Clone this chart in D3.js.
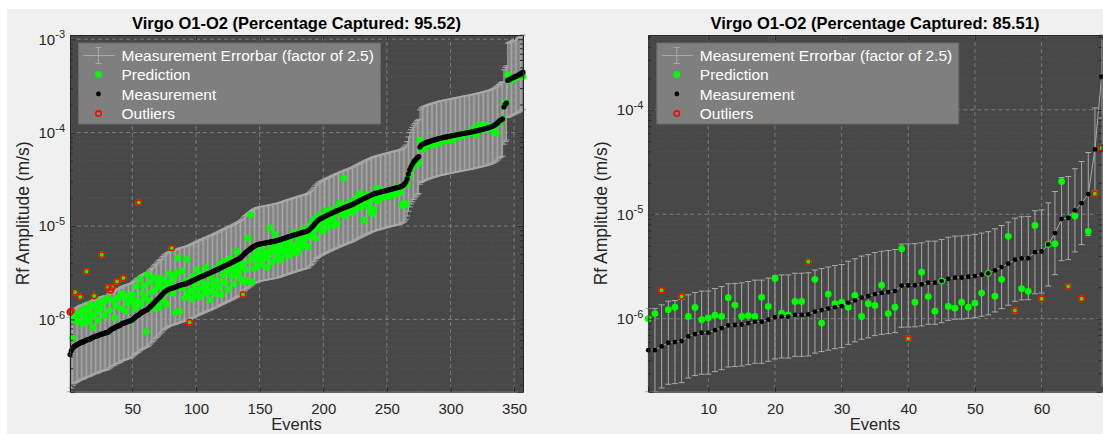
<!DOCTYPE html>
<html>
<head>
<meta charset="utf-8">
<script src="https://cdn.jsdelivr.net/npm/d3@7"></script>
<style>
  html, body { margin: 0; padding: 0; background: #ffffff; }
  svg { display: block; font-family: "Liberation Sans", Arial, Helvetica, sans-serif; }
</style>
</head>
<body>
<svg id="fig" width="1103" height="434"></svg>
<script>
// Amplitudes are stored in units of 1e-6 m/s, events sorted by measured amplitude.
const UNIT = 1e-6;
const errFactor = 2.5;

// O1-O2, full event set
const leftMeasured = [
  0.42,0.46,0.49,0.51,0.52,0.53,0.54,0.55,0.56,0.57,
  0.57,0.58,0.59,0.60,0.61,0.61,0.62,0.63,0.64,0.65,
  0.66,0.66,0.67,0.68,0.69,0.70,0.70,0.71,0.72,0.72,
  0.73,0.75,0.77,0.79,0.80,0.81,0.83,0.84,0.85,0.86,
  0.88,0.90,0.91,0.92,0.93,0.94,0.95,0.96,0.97,0.99,
  1.02,1.05,1.08,1.10,1.12,1.15,1.18,1.20,1.22,1.24,
  1.26,1.28,1.32,1.36,1.40,1.45,1.50,1.55,1.60,1.65,
  1.70,1.75,1.82,1.88,1.95,2.00,2.04,2.08,2.11,2.14,
  2.16,2.18,2.20,2.22,2.25,2.28,2.31,2.33,2.35,2.37,
  2.39,2.41,2.44,2.47,2.50,2.54,2.58,2.62,2.66,2.70,
  2.74,2.78,2.82,2.86,2.90,2.94,2.98,3.02,3.06,3.10,
  3.14,3.18,3.23,3.28,3.33,3.38,3.43,3.48,3.54,3.60,
  3.65,3.70,3.76,3.82,3.88,3.94,4.00,4.06,4.12,4.19,
  4.26,4.33,4.40,4.47,4.56,4.70,4.86,5.02,5.18,5.32,
  5.45,5.58,5.72,5.86,6.00,6.10,6.20,6.28,6.34,6.40,
  6.44,6.48,6.52,6.56,6.60,6.64,6.68,6.72,6.76,6.80,
  6.85,6.90,6.95,7.00,7.06,7.12,7.20,7.28,7.36,7.44,
  7.52,7.60,7.68,7.76,7.84,7.92,8.00,8.08,8.16,8.24,
  8.32,8.40,8.48,8.56,8.64,8.72,8.80,8.90,9.10,9.40,
  9.70,10.0,10.4,10.8,11.2,11.5,11.8,12.0,12.2,12.4,
  12.6,12.8,13.0,13.2,13.4,13.6,13.8,14.0,14.2,14.4,
  14.6,14.8,15.0,15.2,15.4,15.6,15.8,16.0,16.2,16.4,
  16.6,16.8,17.0,17.3,17.6,17.9,18.2,18.5,18.8,19.1,
  19.4,19.7,20.0,20.3,20.6,20.9,21.2,21.5,21.8,22.1,
  22.3,22.5,22.7,22.9,23.1,23.3,23.5,23.7,23.9,24.1,
  24.3,24.5,24.7,24.9,25.1,25.3,25.5,25.7,25.9,26.1,
  26.4,26.8,27.4,28.2,29.5,32.0,36.0,40.0,43.0,45.5,
  48.0,50.0,52.0,54.0,55.5,70.0,73.0,75.0,76.0,77.0,
  78.0,79.0,80.0,80.8,81.6,82.4,83.2,84.0,84.8,85.6,
  86.4,87.0,87.6,88.2,88.8,89.4,90.0,90.6,91.2,91.8,
  92.4,93.0,93.6,94.2,94.8,95.4,96.0,96.6,97.2,97.8,
  98.4,99.0,99.6,100.2,100.8,101.4,102.0,102.8,103.6,104.4,
  105.2,106.0,106.8,107.6,108.4,109.2,110.0,111.0,112.0,113.0,
  114.0,115.5,117.0,119.0,121.0,124.0,127.0,131.0,135.0,138.0,
  140.0,188.0,200.0,208.0,362.0,368.0,374.0,380.0,386.0,392.0,
  398.0,404.0,410.0,418.0,426.0,434.0,444.0
];
const leftPredicted = [
  1.19,1.23,0.63,1.00,1.95,1.10,0.95,1.15,1.74,1.20,
  0.90,1.30,1.05,3.26,1.25,0.95,1.45,1.10,0.82,1.78,
  1.35,1.20,0.98,1.55,1.30,4.92,1.50,1.10,1.60,1.70,
  2.20,1.25,2.05,2.20,1.60,1.04,1.40,2.55,1.70,1.69,
  1.30,1.90,2.77,1.80,1.22,1.50,1.75,0.95,1.60,1.85,
  1.50,1.30,2.25,1.60,17.8,2.70,1.45,1.90,2.30,1.70,
  0.74,3.00,1.60,2.50,1.95,1.30,2.80,2.10,1.55,2.40,
  1.35,2.77,2.20,1.60,2.60,1.90,1.45,2.30,3.08,2.50,
  5.80,1.90,2.80,1.19,3.14,4.54,1.22,2.17,3.30,2.20,
  1.70,2.60,4.40,1.90,0.93,2.00,1.65,2.90,2.30,1.80,
  3.40,2.10,1.75,2.60,3.00,2.20,1.90,3.60,2.40,2.00,
  1.62,2.80,3.20,2.30,1.90,3.50,2.60,2.20,3.90,1.84,
  3.00,4.20,2.50,3.30,2.10,3.80,4.50,2.90,3.40,2.40,
  4.00,5.33,3.10,3.60,2.70,3.90,1.85,2.53,3.40,2.60,
  7.40,4.20,13.2,2.50,4.60,3.50,5.00,3.70,4.40,5.80,
  3.90,4.90,6.20,4.50,5.20,3.60,4.80,9.60,5.50,4.10,
  6.00,8.10,5.30,4.60,5.30,6.40,4.30,5.80,7.00,5.00,
  5.60,6.50,4.80,7.30,6.00,5.40,8.60,6.20,5.10,7.60,
  6.80,5.70,8.90,7.10,6.30,9.20,7.50,6.00,8.30,10.2,
  8.00,11.5,9.00,7.40,12.5,10.8,9.50,13.0,11.0,8.80,
  12.2,14.5,10.6,9.80,13.6,11.8,15.0,12.5,10.2,14.0,
  10.7,16.2,17.6,13.5,15.8,32.5,12.8,14.8,17.0,13.9,
  15.5,18.2,14.0,16.5,19.0,15.2,20.5,17.3,22.4,16.0,
  18.5,11.6,20.0,17.8,21.5,16.2,14.0,19.5,13.5,15.0,
  21.0,25.4,18.6,22.0,19.8,23.6,20.5,24.0,21.2,22.8,
  23.5,20.8,24.5,22.2,24.3,21.5,25.0,23.0,26.0,22.6,
  24.0,17.0,16.5,17.5,17.0,28.0,33.0,36.0,41.0,43.0,
  46.0,47.0,46.1,46.9,47.0,83.0,66.0,70.0,72.0,68.0,
  75.0,73.0,78.0,76.0,80.0,74.0,75.0,81.0,77.0,79.0,
  77.4,83.0,80.0,85.0,82.0,83.7,86.0,84.0,88.0,86.0,
  90.0,83.7,92.0,89.0,94.0,91.0,95.0,92.0,96.0,93.0,
  98.0,95.0,100.0,97.0,102.0,99.0,104.0,110.0,100.0,94.6,
  108.0,112.0,121.0,118.0,106.0,121.0,114.0,110.0,116.0,112.0,
  118.0,110.0,114.0,104.0,120.0,98.6,122.0,128.0,132.0,136.0,
  140.0,195.0,205.0,210.0,414.0,360.0,372.0,366.0,380.0,378.0,
  390.0,392.0,400.0,405.0,410.0,402.0,400.0
];

// O1-O2, reduced event set
const rightMeasured = [
  0.50,0.50,0.543,0.589,0.597,0.61,0.677,0.713,0.735,0.735,
  0.778,0.813,0.863,0.87,0.88,0.908,0.936,0.936,0.978,1.03,
  1.05,1.05,1.09,1.09,1.10,1.17,1.21,1.25,1.29,1.32,
  1.42,1.50,1.59,1.64,1.72,1.77,1.80,1.84,2.07,2.08,
  2.09,2.13,2.21,2.21,2.29,2.41,2.47,2.48,2.52,2.56,
  2.64,2.72,2.90,3.12,3.36,3.67,3.78,3.80,4.33,4.40,
  5.14,6.60,8.98,9.20,10.9,12.8,15.6,41.7,208.0
];
const rightPredicted = [
  1.00,1.12,1.87,1.22,1.29,1.63,1.05,1.28,0.978,1.02,
  1.08,1.05,1.59,1.35,1.05,1.07,1.05,1.60,1.31,2.43,
  1.13,1.09,1.46,1.46,3.51,2.38,0.908,1.72,1.39,1.44,
  1.29,1.67,1.05,1.39,1.34,2.09,1.12,1.29,4.68,0.644,
  1.44,2.79,1.63,1.18,2.29,1.31,1.26,1.44,1.29,1.41,
  1.76,2.72,1.64,2.38,6.14,1.20,1.94,1.83,7.82,1.55,
  5.14,5.22,20.6,2.04,9.60,1.55,6.84,15.7,43.0
];

const leftXTicks = [50, 100, 150, 200, 250, 300, 350];
const rightXTicks = [10, 20, 30, 40, 50, 60];
const leftYTicks = [1e-6, 1e-5, 1e-4, 1e-3];
const rightYTicks = [1e-6, 1e-5, 1e-4];

const titleBase = "Virgo O1-O2";
const legendLabels = ["Measurement Errorbar (factor of 2.5)", "Prediction", "Measurement", "Outliers"];
const xLabel = "Events";
const yLabel = "Rf Amplitude (m/s)";

// ---- styling ----
const C = {
  figure: "#f0f0f0",
  axesBg: "#484848",
  grid: "#7c7c7c",
  minorGrid: "#585858",
  axis: "#262626",
  err: "#a9a9a9",
  pred: "#00ff00",
  meas: "#000000",
  outlier: "#ff0000",
  legendBg: "#7f7f7f",
  legendEdge: "#6a6a6a"
};

const svg = d3.select("#fig");
svg.append("rect").attr("x", 7).attr("y", 9).attr("width", 1096).attr("height", 425).attr("fill", C.figure);

function drawPanel(cfg) {
  const { left, top, width, height, measured, predicted, xTicks, yTicks, dotR, predR } = cfg;
  const meas = measured.map(v => v * UNIT);
  const pred = predicted.map(v => v * UNIT);
  const n = meas.length;
  const idx = d3.range(n);

  const x = d3.scaleLinear().domain([1, n]).range([0, width]);
  const y = d3.scaleLog()
    .domain([d3.min(meas) / errFactor, d3.max(meas) * errFactor])
    .range([height, 0]);

  const isOutlier = i => pred[i] < meas[i] / errFactor || pred[i] > meas[i] * errFactor;
  const outliers = idx.filter(isOutlier);
  const pct = ((n - outliers.length) / n * 100).toFixed(2);

  const g = svg.append("g").attr("transform", `translate(${left},${top})`);
  g.append("rect").attr("width", width).attr("height", height).attr("fill", C.axesBg);

  // minor log grid
  const [lo, hi] = y.domain();
  const minorVals = [];
  for (let d = Math.floor(Math.log10(lo)); d <= Math.ceil(Math.log10(hi)); d++) {
    for (let k = 2; k <= 9; k++) {
      const v = k * Math.pow(10, d);
      if (v > lo && v < hi) minorVals.push(v);
    }
  }
  g.append("g").selectAll("line").data(minorVals).join("line")
    .attr("x1", 0).attr("x2", width)
    .attr("y1", d => y(d)).attr("y2", d => y(d))
    .attr("stroke", C.minorGrid).attr("stroke-width", 1).attr("stroke-dasharray", "1 2");

  // major grid
  const grid = g.append("g").attr("stroke", C.grid).attr("stroke-width", 1).attr("stroke-dasharray", "4 3");
  grid.selectAll("line.gy").data(yTicks).join("line").attr("class", "gy")
    .attr("x1", 0).attr("x2", width).attr("y1", d => y(d)).attr("y2", d => y(d));
  grid.selectAll("line.gx").data(xTicks).join("line").attr("class", "gx")
    .attr("y1", 0).attr("y2", height).attr("x1", d => x(d)).attr("x2", d => x(d));

  // error bars (factor of errFactor) with the line through the measurements
  const eb = g.append("g").attr("stroke", C.err).attr("stroke-width", 1).attr("fill", "none");
  eb.selectAll("line.v").data(idx).join("line").attr("class", "v")
    .attr("x1", i => x(i + 1)).attr("x2", i => x(i + 1))
    .attr("y1", i => y(meas[i] / errFactor)).attr("y2", i => y(meas[i] * errFactor));
  eb.selectAll("line.lo").data(idx).join("line").attr("class", "lo")
    .attr("x1", i => x(i + 1) - 3).attr("x2", i => x(i + 1) + 3)
    .attr("y1", i => y(meas[i] / errFactor)).attr("y2", i => y(meas[i] / errFactor));
  eb.selectAll("line.hi").data(idx).join("line").attr("class", "hi")
    .attr("x1", i => x(i + 1) - 3).attr("x2", i => x(i + 1) + 3)
    .attr("y1", i => y(meas[i] * errFactor)).attr("y2", i => y(meas[i] * errFactor));
  eb.append("path")
    .attr("d", d3.line().x(i => x(i + 1)).y(i => y(meas[i]))(idx));

  // predictions, measurements, outliers
  g.append("g").selectAll("circle").data(idx).join("circle")
    .attr("cx", i => x(i + 1)).attr("cy", i => y(pred[i])).attr("r", predR).attr("fill", C.pred);
  g.append("g").selectAll("circle").data(idx).join("circle")
    .attr("cx", i => x(i + 1)).attr("cy", i => y(meas[i])).attr("r", dotR).attr("fill", C.meas);
  g.append("g").selectAll("circle").data(outliers).join("circle")
    .attr("cx", i => x(i + 1)).attr("cy", i => y(pred[i])).attr("r", 2.7)
    .attr("fill", "none").attr("stroke", C.outlier).attr("stroke-width", 1.5);

  // axes (ticks pointing inward, box on)
  const styleAxis = sel => {
    sel.attr("font-family", null).attr("font-size", null);
    sel.selectAll("path.domain").attr("stroke", C.axis);
    sel.selectAll(".tick line").attr("stroke", C.axis);
    sel.selectAll(".tick text").attr("fill", C.axis).style("font-size", "15px");
  };

  g.append("g").attr("transform", `translate(0,${height})`)
    .call(d3.axisBottom(x).tickValues(xTicks).tickSize(-5).tickPadding(12).tickFormat(d3.format("d")))
    .call(styleAxis);
  g.append("g")
    .call(d3.axisTop(x).tickValues(xTicks).tickSize(-5).tickFormat(""))
    .call(styleAxis);

  const ya = g.append("g")
    .call(d3.axisLeft(y).tickValues(yTicks).tickSize(-5).tickPadding(5).tickFormat(""))
    .call(styleAxis);
  ya.selectAll(".tick text").each(function (d) {
    const t = d3.select(this);
    t.text(null);
    t.append("tspan").text("10");
    t.append("tspan").attr("dy", "-0.55em").style("font-size", "11px").text(String(Math.round(Math.log10(d))));
  });
  g.append("g").call(d3.axisLeft(y).tickValues(minorVals).tickSize(-3).tickFormat(""))
    .call(styleAxis).select("path.domain").remove();
  g.append("g").attr("transform", `translate(${width},0)`)
    .call(d3.axisRight(y).tickValues(yTicks).tickSize(-5).tickFormat(""))
    .call(styleAxis);
  g.append("g").attr("transform", `translate(${width},0)`)
    .call(d3.axisRight(y).tickValues(minorVals).tickSize(-3).tickFormat(""))
    .call(styleAxis).select("path.domain").remove();

  // title and labels
  g.append("text").attr("x", width / 2).attr("y", -6).attr("text-anchor", "middle")
    .attr("font-weight", "bold").style("font-size", "16.5px").attr("fill", "#000")
    .text(`${titleBase} (Percentage Captured: ${pct})`);
  g.append("text").attr("x", width / 2).attr("y", height + 38.5).attr("text-anchor", "middle")
    .style("font-size", "16.5px").attr("fill", C.axis).text(xLabel);
  g.append("text").attr("transform", `translate(-47,${height / 2}) rotate(-90)`)
    .attr("text-anchor", "middle").attr("dominant-baseline", "central")
    .style("font-size", "17.5px").attr("fill", C.axis).text(yLabel);

  // legend
  const lg = g.append("g").attr("transform", "translate(8.5,8)");
  lg.append("rect").attr("width", 302).attr("height", 81)
    .attr("fill", C.legendBg).attr("stroke", C.legendEdge).attr("stroke-width", 1);
  const rowY = [12.5, 31.5, 51, 70.5];
  const ic = 20;
  const li = lg.append("g").attr("stroke", C.err).attr("stroke-width", 1);
  li.append("line").attr("x1", 5).attr("x2", 36).attr("y1", rowY[0]).attr("y2", rowY[0]);
  li.append("line").attr("x1", ic).attr("x2", ic).attr("y1", rowY[0] - 8).attr("y2", rowY[0] + 8);
  li.append("line").attr("x1", ic - 3).attr("x2", ic + 3).attr("y1", rowY[0] - 8).attr("y2", rowY[0] - 8);
  li.append("line").attr("x1", ic - 3).attr("x2", ic + 3).attr("y1", rowY[0] + 8).attr("y2", rowY[0] + 8);
  lg.append("circle").attr("cx", ic).attr("cy", rowY[1]).attr("r", 3.4).attr("fill", C.pred);
  lg.append("circle").attr("cx", ic).attr("cy", rowY[2]).attr("r", 2.4).attr("fill", C.meas);
  lg.append("circle").attr("cx", ic).attr("cy", rowY[3]).attr("r", 2.7)
    .attr("fill", "none").attr("stroke", C.outlier).attr("stroke-width", 1.5);
  lg.selectAll("text").data(legendLabels).join("text")
    .attr("x", 43).attr("y", (d, i) => rowY[i]).attr("dominant-baseline", "central")
    .style("font-size", "15.5px").attr("fill", "#ffffff").text(d => d);
}

drawPanel({
  left: 70, top: 35, width: 453, height: 356.7,
  measured: leftMeasured, predicted: leftPredicted,
  xTicks: leftXTicks, yTicks: leftYTicks, dotR: 2.6, predR: 3.4
});
drawPanel({
  left: 648.3, top: 35, width: 453.3, height: 356.7,
  measured: rightMeasured, predicted: rightPredicted,
  xTicks: rightXTicks, yTicks: rightYTicks, dotR: 2.4, predR: 3.4
});
</script>
</body>
</html>
